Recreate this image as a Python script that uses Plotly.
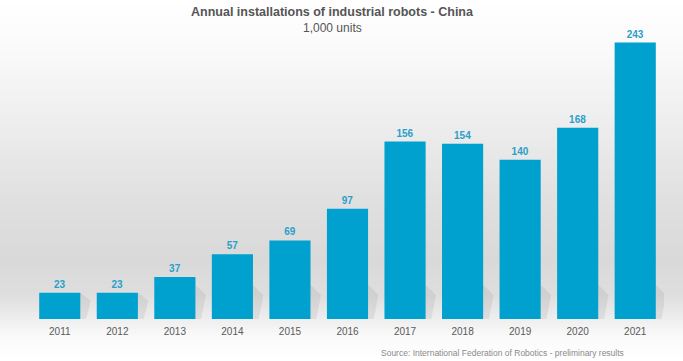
import plotly.graph_objects as go

years = ["2011", "2012", "2013", "2014", "2015", "2016", "2017", "2018", "2019", "2020", "2021"]
installs = [23, 23, 37, 57, 69, 97, 156, 154, 140, 168, 243]

BAR = "#00a0cf"
LABEL = "#2a9fc9"

W, H = 683, 361
ML, MR, MT, MB = 31, 19, 30, 42

fig = go.Figure()

# background gradient (pixel-y stops -> grey level)
stops = [(0, 255), (50, 250), (120, 238), (200, 224), (260, 217), (295, 222), (320, 238), (338, 250), (361, 255)]
def grey_at(py):
    for (y0, g0), (y1, g1) in zip(stops[:-1], stops[1:]):
        if y0 <= py <= y1:
            t = (py - y0) / (y1 - y0)
            return g0 + (g1 - g0) * t
    return 255
ph = H - MT - MB
pw = W - ML - MR
step = 3
for py in range(0, H, step):
    g = int(round(grey_at(py + step / 2)))
    y_top = 1 - (py - MT) / ph
    y_bot = 1 - (py + step - MT) / ph
    fig.add_shape(type="rect", xref="paper", yref="paper",
                  x0=-ML / pw - 0.01, x1=1 + MR / pw + 0.01,
                  y0=y_bot - 0.002, y1=y_top + 0.002,
                  fillcolor=f"rgb({g},{g},{g})", line_width=0, layer="below")

xs = list(range(len(years)))
bw = 0.715

# soft shadows behind bars
for i, v in zip(xs, installs):
    r = i + bw / 2
    h = min(v, 30)
    fig.add_trace(go.Scatter(
        x=[r, r, r + 0.18, r + 0.1, r],
        y=[0, h, h * 0.7, 0, 0],
        fill="toself", mode="none", fillcolor="rgba(130,130,130,0.14)",
        hoverinfo="skip", showlegend=False))

fig.add_trace(go.Bar(
    x=xs, y=installs, width=bw,
    marker=dict(color=BAR, line=dict(width=0)),
    text=[str(v) for v in installs], textposition="outside",
    textfont=dict(family="Liberation Sans, Arial", size=10, color=LABEL, weight="bold"),
    cliponaxis=False, showlegend=False))

fig.update_layout(
    width=W, height=H,
    margin=dict(l=ML, r=MR, t=MT, b=MB),
    paper_bgcolor="white", plot_bgcolor="rgba(0,0,0,0)",
    font=dict(family="Liberation Sans, Arial", color="#555555"),
    xaxis=dict(range=[-0.5, len(years) - 0.5], tickvals=xs, ticktext=years,
               showgrid=False, zeroline=False, showline=False, ticks="",
               ticklabelstandoff=5,
               tickfont=dict(size=10, color="#5a5a5a")),
    yaxis=dict(range=[0, 254], visible=False, showgrid=False, zeroline=False),
    annotations=[
        dict(text="<b>Annual installations of industrial robots - China</b>", xref="paper", yref="paper",
             x=(332 - ML) / pw, y=1 + (MT - 12) / ph, xanchor="center", yanchor="middle",
             showarrow=False, font=dict(size=12.5, color="#555555")),
        dict(text="1,000 units", xref="paper", yref="paper",
             x=(332 - ML) / pw, y=1 + (MT - 28) / ph, xanchor="center", yanchor="middle",
             showarrow=False, font=dict(size=12, color="#555555")),
        dict(text="Source: International Federation of Robotics - preliminary results", xref="paper", yref="paper",
             x=(379 - ML) / pw, y=-(353 - (H - MB)) / ph, xanchor="left", yanchor="middle",
             showarrow=False, font=dict(size=8.5, color="#8a8a8a")),
    ],
)

fig.write_html("out.html", config={"displayModeBar": False},
               post_script="document.body.style.margin='0';document.body.style.padding='0';")
